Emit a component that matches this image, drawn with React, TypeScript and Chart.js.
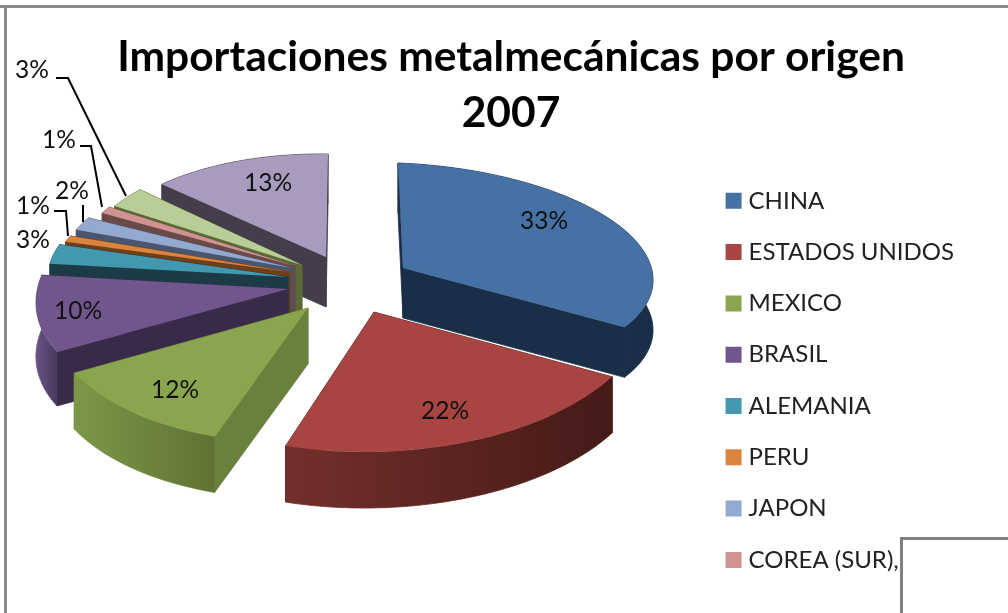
import React, { useEffect, useRef } from "react";
import { Chart, registerables } from "chart.js";

Chart.register(...registerables);

const categories = ["CHINA", "ESTADOS UNIDOS", "MEXICO", "BRASIL", "ALEMANIA", "PERU", "JAPON", "COREA (SUR),", "", ""];
const shares = [33, 22, 12, 10, 3, 1, 2, 1, 3, 13];
const topColors = ["#4571A5", "#A84542", "#89A54E", "#71568D", "#4198AF", "#DB843D", "#93A9CF", "#D19392", "#B9CD96", "#A99BBD"];
const wallColors = ["#1B2E48", "#4A1C19", "#6A803D", "#3A2A4A", "#1B3B46", "#6E3F18", "#4A5670", "#6A4A48", "#5A6B38", "#433D4C"];
const rimLeftColors = ["#1B2E48", "#732F2C", "#7C9748", "#6A5285", "#1B3B46", "#6E3F18", "#4A5670", "#6A4A48", "#5A6B38", "#433D4C"];
const rimRightColors = ["#1B2E48", "#451A17", "#5F7233", "#4A3860", "#1B3B46", "#6E3F18", "#4A5670", "#6A4A48", "#5A6B38", "#433D4C"];

// Per-slice oblique view of the exploded pie: apex, radii, shear, extrusion.
const sliceViews = [
  { ax: 403, ay: 268, rx: 250, ry: 105, sx: 5, sy: 10, depth: 50 },
  { ax: 374, ay: 312, rx: 274, ry: 140, sx: -4, sy: -3, depth: 56 },
  { ax: 308, ay: 308, rx: 259, ry: 135, sx: -14, sy: 0, depth: 56 },
  { ax: 288, ay: 289, rx: 251, ry: 127, sx: -23, sy: -2, depth: 54 },
  { ax: 288, ay: 277, rx: 240, ry: 105, sx: 0, sy: 0, depth: 50 },
  { ax: 290, ay: 272, rx: 236, ry: 98, sx: 0, sy: 0, depth: 50 },
  { ax: 292, ay: 268, rx: 232, ry: 104, sx: 0, sy: 0, depth: 50 },
  { ax: 295, ay: 266, rx: 220, ry: 110, sx: 0, sy: 0, depth: 50 },
  { ax: 302, ay: 265, rx: 222, ry: 110, sx: 0, sy: 0, depth: 50 },
  { ax: 326, ay: 257, rx: 227, ry: 103, sx: -2, sy: 3, depth: 50 },
];
const paintOrder = [9, 8, 7, 6, 5, 4, 0, 3, 2, 1];

const labelAnchors = [
  [544, 221], [445, 411], [175, 390], [78, 311], [33, 240],
  [33, 206], [72, 191], [59, 140], [32, 70], [268, 183],
];
const leaders = [
  [[54, 211], [66, 211], [68, 236]],
  [[83, 205], [83, 222]],
  [[80, 146], [91, 146], [102, 207]],
  [[56, 78], [68, 78], [126, 196]],
];

const FONT = "Lato, Carlito, sans-serif";

const pie3d = {
  id: "pie3d",
  beforeDatasetDraw(chart: any) {
    const ctx = chart.ctx;
    const meta = chart.getDatasetMeta(0);
    for (const i of paintOrder) {
      const arc = meta.data[i];
      const v = sliceViews[i];
      const pt = (a: number) => [
        v.ax + Math.cos(a) * v.rx + Math.sin(a) * v.sx,
        v.ay + Math.sin(a) * v.ry + Math.cos(a) * v.sy,
      ];
      const start = arc.startAngle;
      const end = arc.endAngle;
      const p0 = pt(start);
      const p1 = pt(end);
      ctx.save();
      ctx.lineWidth = 0.8;
      ctx.fillStyle = wallColors[i];
      ctx.strokeStyle = wallColors[i];
      for (const p of [p0, p1]) {
        ctx.beginPath();
        ctx.moveTo(v.ax, v.ay);
        ctx.lineTo(p[0], p[1]);
        ctx.lineTo(p[0], p[1] + v.depth);
        ctx.lineTo(v.ax, v.ay + v.depth);
        ctx.closePath();
        ctx.fill();
        ctx.stroke();
      }
      const rim: number[][] = [];
      const steps = 60;
      for (let s = 0; s <= steps; s++) rim.push(pt(start + ((end - start) * s) / steps));
      const xs = rim.map((p) => p[0]);
      const grad = ctx.createLinearGradient(Math.min(...xs), 0, Math.max(...xs), 0);
      grad.addColorStop(0, rimLeftColors[i]);
      grad.addColorStop(1, rimRightColors[i]);
      ctx.fillStyle = grad;
      ctx.strokeStyle = grad;
      ctx.beginPath();
      rim.forEach((p, k) => (k ? ctx.lineTo(p[0], p[1]) : ctx.moveTo(p[0], p[1])));
      for (let k = rim.length - 1; k >= 0; k--) ctx.lineTo(rim[k][0], rim[k][1] + v.depth);
      ctx.closePath();
      ctx.fill();
      ctx.stroke();
      const R = arc.outerRadius;
      ctx.transform(v.rx / R, v.sy / R, v.sx / R, v.ry / R, v.ax, v.ay);
      ctx.translate(-arc.x, -arc.y);
      arc.draw(ctx);
      ctx.restore();
    }
    return false;
  },
  afterDatasetsDraw(chart: any) {
    const ctx = chart.ctx;
    ctx.save();
    ctx.strokeStyle = "#000";
    ctx.lineWidth = 2;
    for (const pts of leaders) {
      ctx.beginPath();
      pts.forEach((p, k) => (k ? ctx.lineTo(p[0], p[1]) : ctx.moveTo(p[0], p[1])));
      ctx.stroke();
    }
    ctx.fillStyle = "#111";
    ctx.font = `24.5px ${FONT}`;
    ctx.textAlign = "center";
    ctx.textBaseline = "middle";
    shares.forEach((s, i) => ctx.fillText(`${s}%`, labelAnchors[i][0], labelAnchors[i][1]));
    ctx.restore();
  },
};

export default function App() {
  const ref = useRef<HTMLCanvasElement>(null);
  useEffect(() => {
    const chart = new Chart(ref.current!, {
      type: "pie",
      data: {
        labels: categories,
        datasets: [{ data: shares, backgroundColor: topColors, borderWidth: 0, hoverOffset: 0 }],
      },
      options: {
        responsive: false,
        animation: false,
        layout: { padding: { left: 58, right: 44, top: 0, bottom: 0 } },
        plugins: {
          tooltip: { enabled: false },
          title: {
            display: true,
            text: ["Importaciones metalmecánicas por origen", "2007"],
            color: "#000",
            font: { family: FONT, size: 42.5, weight: "bold", lineHeight: 1.3 },
            padding: { top: 30, bottom: 21 },
          },
          legend: {
            position: "right",
            align: "start",
            fullSize: false,
            labels: {
              filter: (item: any) => item.index < 8,
              font: { family: FONT, size: 24 },
              color: "#222",
              usePointStyle: true,
              pointStyle: "rect",
              boxWidth: 6,
              boxHeight: 16,
              padding: 27.3,
            },
          },
        },
      } as any,
      plugins: [pie3d as any],
    });
    return () => chart.destroy();
  }, []);
  return (
    <div style={{ position: "fixed", left: 0, top: 0, width: 1008, height: 613, overflow: "hidden", background: "#fff" }}>
      <canvas ref={ref} width={1008} height={613} style={{ display: "block" }} />
      <div style={{ position: "absolute", left: 0, top: 5, width: 1008, height: 3, background: "#8A8A8A" }} />
      <div style={{ position: "absolute", left: 4, top: 5, width: 3, height: 608, background: "#8A8A8A" }} />
      <div style={{ position: "absolute", left: 900, top: 537, width: 120, height: 90, border: "3px solid #808080", background: "#fff" }} />
    </div>
  );
}
